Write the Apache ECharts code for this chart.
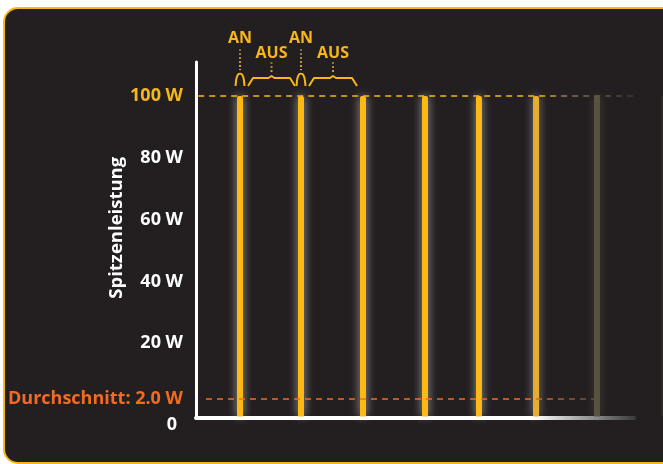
<!DOCTYPE html>
<html>
<head>
<meta charset="utf-8">
<script src="https://cdn.jsdelivr.net/npm/echarts@6/dist/echarts.min.js"></script>
<style>
  html, body { margin: 0; padding: 0; background: #fff; }
  #chart { width: 663px; height: 464px; }
</style>
</head>
<body>
<div id="chart"></div>
<script>
  // Pulszeitpunkte (x) und Spitzenleistung (W)
  const pulseTimes = [10.05, 23.97, 38.13, 52.28, 64.6, 77.63, 91.55, 106.4]
  const peakPower  = [100, 100, 100, 100, 100, 100, 100, 100]
  const avgPower   = 2.0
  const yTicks     = [20, 40, 60, 80, 100]
  const axisName   = 'Spitzenleistung'
  const avgLabel   = 'Durchschnitt: 2.0 W'
  const onLabel    = 'AN'
  const offLabel   = 'AUS'

  // Farben: die letzten Pulse laufen aus
  const barColors = ['#fdb913', '#fdb913', '#fdb913', '#fdb913', '#fdb913', '#e7ad2e', '#58523f', '#2f2a23']
  const glowColors = ['rgba(255,255,255,0.6)', 'rgba(255,255,255,0.6)', 'rgba(255,255,255,0.6)', 'rgba(255,255,255,0.6)',
                      'rgba(255,255,255,0.55)', 'rgba(255,255,255,0.45)', 'rgba(255,255,255,0.15)', 'rgba(0,0,0,0)']
  const barWidths = [6, 6, 6, 6, 6, 6, 6, 2]

  const YELLOW = '#f7b718'
  const ORANGE = '#f26b22'
  const FONT = 'Open Sans'
  const grad = (stops) => new echarts.graphic.LinearGradient(0, 0, 1, 0, stops.map(s => ({offset: s[0], color: s[1]})))

  const chart = echarts.init(document.getElementById('chart'))

  const option = {
    backgroundColor: '#ffffff',
    animation: false,
    grid: { left: 196, right: 29, top: 62, bottom: 46.5 },
    xAxis: {
      type: 'value', min: 0, max: 100,
      axisLine: { onZero: false, lineStyle: { width: 4, cap: 'round',
        color: grad([[0, '#ffffff'], [0.77, '#ffffff'], [1, '#3a3838']]) } },
      axisTick: { show: false }, axisLabel: { show: false }, splitLine: { show: false }
    },
    yAxis: {
      type: 'value', min: -4, max: 111,
      name: axisName, nameLocation: 'middle', nameRotate: 90, nameGap: 70, nameMoveOverlap: false,
      nameTextStyle: { color: '#fff', fontFamily: FONT, fontWeight: 'bold', fontSize: 18.5, padding: [0, 0, 0, 24] },
      axisLine: { onZero: false, lineStyle: { color: '#fff', width: 3 } },
      axisTick: { show: false }, splitLine: { show: false },
      axisLabel: {
        customValues: [-4].concat(yTicks),
        margin: 13,
        color: '#fff', fontFamily: FONT, fontWeight: 'bold', fontSize: 18,
        formatter: v => v < 0 ? '{z|0}' : (v === 100 ? '{hi|' + v + ' W}' : v + ' W'),
        rich: {
          hi: { color: YELLOW, fontFamily: FONT, fontWeight: 'bold', fontSize: 18 },
          z: { color: '#fff', fontFamily: FONT, fontWeight: 'bold', fontSize: 18, padding: [14, 6, 0, 0] }
        }
      }
    },
    series: [{
      type: 'custom',
      clip: false,
      data: pulseTimes.map((t, i) => [t, peakPower[i]]),
      renderItem: (params, api) => {
        const i = params.dataIndex
        const top = api.coord([api.value(0), api.value(1)])
        const base = params.coordSys.y + params.coordSys.height
        const w = barWidths[i]
        return {
          type: 'rect',
          shape: { x: top[0] - w / 2, y: top[1], width: w, height: base - top[1] - 1, r: [2, 2, 0, 0] },
          style: { fill: barColors[i], shadowBlur: 10, shadowColor: glowColors[i] }
        }
      },
      markLine: {
        silent: true,
        symbol: ['none', 'none'],
        data: [
          [
            { coord: [0.5, 100], lineStyle: { type: [6, 5], width: 1.5,
              color: grad([[0, YELLOW], [0.78, YELLOW], [0.84, '#8a7b57'], [1, '#3a3530']]) }, label: { show: false } },
            { coord: [100, 100] }
          ],
          [
            { coord: [2.28, avgPower], lineStyle: { type: [6, 5], width: 1.5,
              color: grad([[0, ORANGE], [0.82, ORANGE], [1, '#55504a']]) },
              label: { show: true, position: 'start', distance: 23, formatter: avgLabel,
                color: ORANGE, fontFamily: FONT, fontWeight: 'bold', fontSize: 18 } },
            { coord: [91.1, avgPower] }
          ]
        ]
      }
    }]
  }

  chart.setOption(option)

  // Karte (Hintergrund mit gelbem Rand)
  const card = {
    type: 'rect', z: -10, silent: true,
    shape: { x: 4, y: 8, width: 690, height: 455, r: 14 },
    style: { fill: '#231f20', stroke: YELLOW, lineWidth: 2 }
  }

  // AN / AUS Markierungen über den ersten Pulsen, aus den Achsenpositionen berechnet
  const px = i => chart.convertToPixel({ gridIndex: 0 }, [pulseTimes[i], peakPower[i]])[0]
  const ann = []
  const braceColor = YELLOW
  const dotted = (x, y1, y2) => ({
    type: 'line', silent: true,
    shape: { x1: x, y1: y1, x2: x, y2: y2 },
    style: { stroke: new echarts.graphic.LinearGradient(0, 0, 0, 1, [{offset: 0, color: '#6b6350'}, {offset: 1, color: YELLOW}]),
      lineWidth: 2, lineDash: [2, 2] }
  })
  const text = (x, y, s) => ({
    type: 'text', silent: true, x: x, y: y,
    style: { text: s, fill: YELLOW, font: 'bold 16px "Open Sans"', align: 'center', verticalAlign: 'middle' }
  })
  for (let k = 0; k < 2; k++) {
    const a = px(k), b = px(k + 1)
    // AN: schmale Klammer über dem Puls
    ann.push({
      type: 'polyline', silent: true,
      shape: { points: [[a - 4.5, 86], [a - 3.5, 78], [a - 1.5, 74], [a + 1.5, 74], [a + 3.5, 78], [a + 4.5, 86]], smooth: 0.3 },
      style: { stroke: braceColor, lineWidth: 2, fill: null }
    })
    ann.push(dotted(a, 49, 70))
    ann.push(text(a, 38, onLabel))
    // AUS: breite Klammer zwischen den Pulsen
    const l = a + 8, r = b - 6, m = (l + r) / 2
    ann.push({
      type: 'polyline', silent: true,
      shape: { points: [[l, 86], [l + 5, 78], [m - 3, 78], [m, 76], [m + 3, 78], [r - 5, 78], [r, 86]] },
      style: { stroke: braceColor, lineWidth: 2, fill: null, lineJoin: 'round' }
    })
    ann.push(dotted(m, 62, 74))
    ann.push(text(m, 53, offLabel))
  }

  chart.setOption({ graphic: [card].concat(ann) })
</script>
</body>
</html>
